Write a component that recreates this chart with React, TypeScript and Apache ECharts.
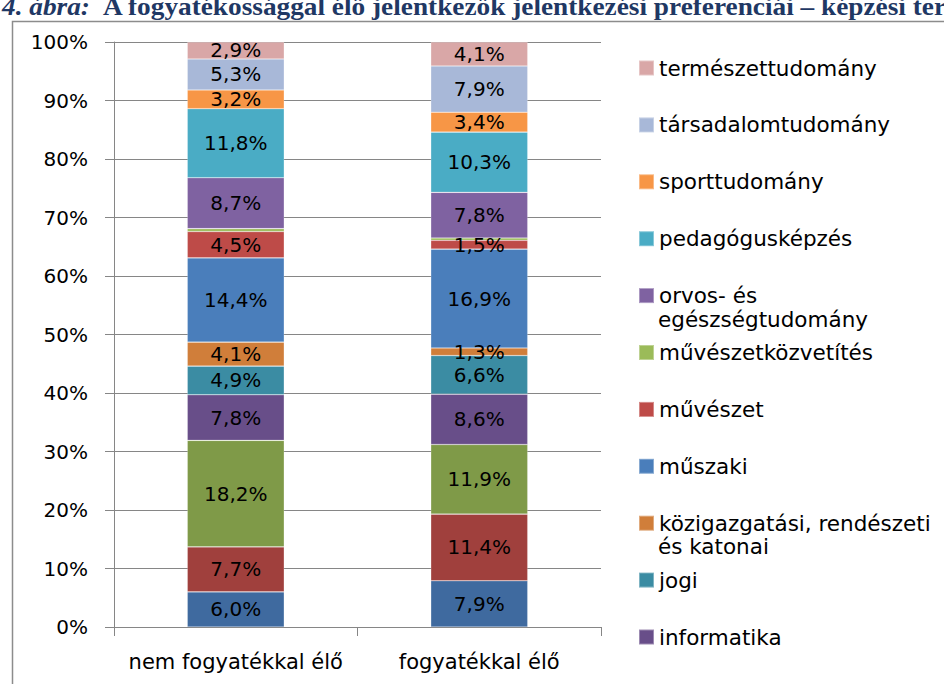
import React, { useEffect, useRef } from "react";
import * as echarts from "echarts";

const categories = ["nem fogyatékkal élő", "fogyatékkal élő"];

const seriesNames = [
  "agrár",
  "bölcsészettudomány",
  "gazdaságtudományok",
  "informatika",
  "jogi",
  "közigazgatási, rendészeti és katonai",
  "műszaki",
  "művészet",
  "művészetközvetítés",
  "orvos- és egészségtudomány",
  "pedagógusképzés",
  "sporttudomány",
  "társadalomtudomány",
  "természettudomány",
];

const values: number[][] = [
  [6.0, 7.9],
  [7.7, 11.4],
  [18.2, 11.9],
  [7.8, 8.6],
  [4.9, 6.6],
  [4.1, 1.3],
  [14.4, 16.9],
  [4.5, 1.5],
  [0.5, 0.4],
  [8.7, 7.8],
  [11.8, 10.3],
  [3.2, 3.4],
  [5.3, 7.9],
  [2.9, 4.1],
];

const colors = [
  "#3F6A9F",
  "#A0403D",
  "#7F9A48",
  "#684E89",
  "#3B8CA3",
  "#D07E3A",
  "#4A7EBB",
  "#BE4B48",
  "#9BBB59",
  "#7F62A1",
  "#4AACC5",
  "#F79646",
  "#A8B8D8",
  "#D9A7A7",
];

// legend entries, top to bottom (first line label shown in legend)
const legendEntries: { series: string; first: string; second?: string }[] = [
  { series: "természettudomány", first: "természettudomány" },
  { series: "társadalomtudomány", first: "társadalomtudomány" },
  { series: "sporttudomány", first: "sporttudomány" },
  { series: "pedagógusképzés", first: "pedagógusképzés" },
  { series: "orvos- és egészségtudomány", first: "orvos- és", second: "egészségtudomány" },
  { series: "művészetközvetítés", first: "művészetközvetítés" },
  { series: "művészet", first: "művészet" },
  { series: "műszaki", first: "műszaki" },
  { series: "közigazgatási, rendészeti és katonai", first: "közigazgatási, rendészeti", second: "és katonai" },
  { series: "jogi", first: "jogi" },
  { series: "informatika", first: "informatika" },
];

const yTicks = [0, 10, 20, 30, 40, 50, 60, 70, 80, 90, 100];

const titleText =
  "A fogyatékossággal élő jelentkezők jelentkezési preferenciái – képzési területek szerint";

export default function App() {
  const ref = useRef<HTMLDivElement>(null);
  useEffect(() => {
    if (!ref.current) return;
    const chart = echarts.init(ref.current, null, { renderer: "svg" });
    const font = "DejaVu Sans";
    const legendStart = 64.5;
    const legendStep = 56.9;

    const legends = legendEntries.map((e, i) => ({
      show: true,
      orient: "vertical" as const,
      left: 638,
      top: legendStart + i * legendStep - 7.5,
      padding: 0,
      itemWidth: 15,
      itemHeight: 15,
      icon: "rect",
      data: [e.series],
      selectedMode: false,
      formatter: () => e.first,
      textStyle: { fontFamily: font, fontSize: 21.5, color: "#000" },
    }));

    const secondLines = legendEntries
      .map((e, i) => ({ e, i }))
      .filter((o) => o.e.second)
      .map((o) => ({
        type: "text",
        x: 658,
        y: legendStart + o.i * legendStep + 27,
        style: {
          text: o.e.second,
          font: `21.5px "${font}"`,
          fill: "#000",
          verticalAlign: "middle",
        },
      }));

    chart.setOption({
      animation: false,
      backgroundColor: "#fff",
      color: colors,
      textStyle: { fontFamily: font },
      grid: { left: 114, right: 343, top: 42, bottom: 57, containLabel: false },
      legend: legends,
      xAxis: {
        type: "category",
        data: categories,
        axisLine: { show: true, lineStyle: { color: "#868686", width: 1 } },
        axisTick: { show: true, length: 9, alignWithLabel: false, lineStyle: { color: "#868686" } },
        axisLabel: { fontFamily: font, fontSize: 21, color: "#000", margin: 24, interval: 0 },
        splitLine: { show: false },
      },
      yAxis: {
        type: "value",
        min: 0,
        max: 100,
        interval: 10,
        axisLine: { show: true, lineStyle: { color: "#868686", width: 1 } },
        axisTick: { show: true, length: 9, lineStyle: { color: "#868686" } },
        axisLabel: {
          fontFamily: font,
          fontSize: 20,
          color: "#000",
          margin: 26,
          formatter: (v: number) => (yTicks.includes(v) ? `${v}%` : ""),
        },
        splitLine: { show: true, lineStyle: { color: "#868686", width: 1 } },
      },
      graphic: [
        {
          type: "rect",
          shape: { x: 12.5, y: 21.5, width: 1200, height: 1200 },
          style: { fill: "none", stroke: "#8C8C8C", lineWidth: 1.5 },
          silent: true,
        },
        {
          type: "text",
          x: 2,
          y: 19.5,
          scaleX: 1.05,
          style: {
            text: "4. ábra:",
            font: `italic bold 26px "Liberation Serif"`,
            fill: "#1F3864",
            verticalAlign: "bottom",
          },
        },
        {
          type: "text",
          x: 103,
          y: 19.5,
          scaleX: 1.05,
          style: {
            text: titleText,
            font: `bold 26px "Liberation Serif"`,
            fill: "#1F3864",
            verticalAlign: "bottom",
          },
        },
        ...secondLines,
      ],
      series: seriesNames.map((name, i) => ({
        name,
        type: "bar",
        stack: "total",
        barWidth: 97,
        data: values[i],
        itemStyle: { color: colors[i], borderColor: "rgba(255,255,255,0.35)", borderWidth: 0.6 },
        label: {
          show: true,
          position: "inside",
          fontFamily: font,
          fontSize: 20,
          color: "#000",
          formatter: (p: any) =>
            p.value >= 1 ? p.value.toFixed(1).replace(".", ",") + "%" : "",
        },
      })),
    });
    return () => chart.dispose();
  }, []);
  return (
    <div
      ref={ref}
      style={{ position: "absolute", left: 0, top: 0, width: 944, height: 684 }}
    />
  );
}
